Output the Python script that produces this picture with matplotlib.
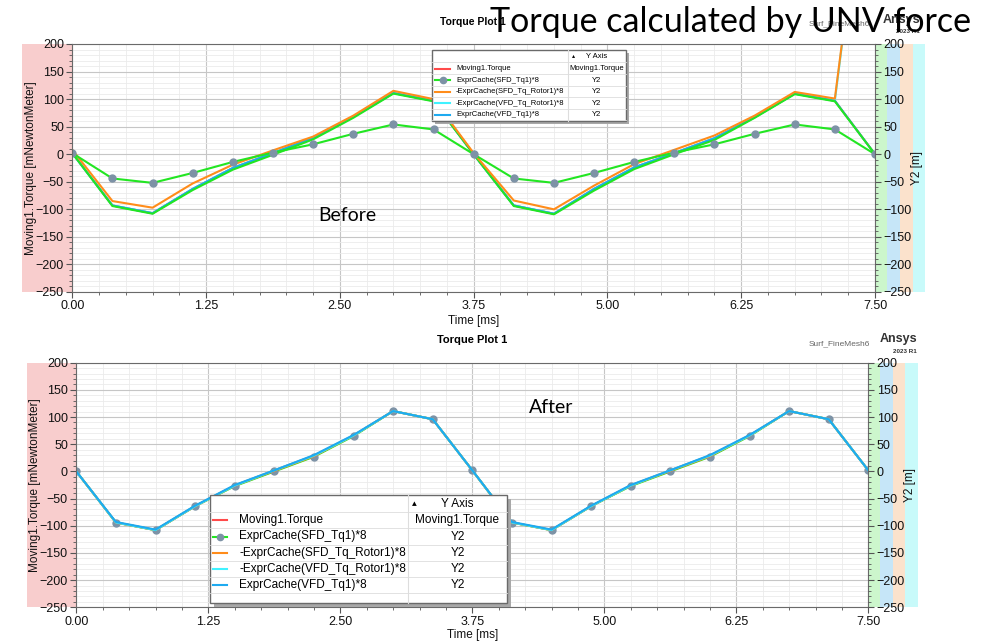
import matplotlib
matplotlib.use("Agg")
import matplotlib.pyplot as plt
from matplotlib.patches import Rectangle
from matplotlib.ticker import MultipleLocator, FormatStrFormatter

plt.rcParams["font.family"] = ["Liberation Sans", "DejaVu Sans"]

# ---- data ----
time_ms = [0.0, 0.375, 0.75, 1.125, 1.5, 1.875, 2.25, 2.625, 3.0, 3.375, 3.75,
           4.125, 4.5, 4.875, 5.25, 5.625, 6.0, 6.375, 6.75, 7.125, 7.5]

series_labels = ["Moving1.Torque", "ExprCache(SFD_Tq1)*8", "-ExprCache(SFD_Tq_Rotor1)*8",
                 "-ExprCache(VFD_Tq_Rotor1)*8", "ExprCache(VFD_Tq1)*8"]
series_axes = ["Moving1.Torque", "Y2", "Y2", "Y2", "Y2"]

# before
top_moving = [2, -93, -107, -63, -25, 2, 30, 68, 111, 97, 0, -93, -108, -63, -24, 2, 29, 67, 110, 97, 0]
top_sfd_tq1 = [2, -44, -52, -34, -14, 3, 18, 37, 54, 45, 0, -44, -52, -34, -14, 3, 18, 37, 54, 45, 0]
top_sfd_rotor = [8, -85, -97, -53, -19, 7, 32, 70, 115, 100, 2, -84, -100, -57, -18, 8, 34, 70, 113, 101, 670]
top_vfd_rotor = [2, -93, -107, -63, -25, 2, 30, 68, 111, 97, 0, -93, -108, -63, -24, 2, 29, 67, 110, 97, 670]
top_vfd_tq1 = [2, -93, -107, -63, -25, 2, 30, 68, 111, 97, 0, -93, -108, -63, -24, 2, 29, 67, 110, 97, 0]
top_green = [2, -94, -108, -65, -28, -1, 27, 66, 110, 96, 0, -94, -109, -66, -27, 0, 26, 66, 109, 96, 0]

# after
bot_moving = [0, -94, -108, -64, -26, 2, 29, 66, 111, 96, 2, -94, -108, -64, -26, 2, 29, 66, 111, 96, 2]
bot_sfd_tq1 = [0, -94, -108, -64, -27, 0, 27, 65, 111, 96, 2, -94, -108, -64, -27, 0, 27, 65, 111, 96, 2]
bot_sfd_rotor = [0, -94, -108, -64, -26, 1, 28, 66, 111, 96, 2, -94, -108, -64, -26, 1, 28, 66, 111, 96, 2]
bot_vfd_rotor = [0, -94, -108, -64, -26, 2, 29, 66, 111, 96, 2, -94, -108, -64, -26, 2, 29, 66, 111, 96, 2]
bot_vfd_tq1 = [0, -93, -107, -63, -25, 2, 30, 67, 111, 96, 2, -93, -107, -63, -25, 2, 30, 67, 111, 96, 2]

red, green, orange, cyan, blue = "#ff4a4a", "#22e622", "#ff8c1a", "#3ff2ff", "#1eaaf0"
series_colors = [red, green, orange, cyan, blue]
marker_gray = "#7d92a6"

W, H = 996, 644
fig = plt.figure(figsize=(W / 100, H / 100), dpi=100)


def frac(x0, y0, x1, y1):
    return [x0 / W, 1 - y1 / H, (x1 - x0) / W, (y1 - y0) / H]


def overlay(z):
    o = fig.add_axes([0, 0, 1, 1], zorder=z)
    o.set_xlim(0, W)
    o.set_ylim(H, 0)
    o.axis("off")
    return o


bg = overlay(0)
ax_top = fig.add_axes(frac(72.3, 44, 875, 292), zorder=1)
ax_bot = fig.add_axes(frac(76.3, 362.7, 868.3, 607.3), zorder=1)
fg = overlay(5)


def band(x0, x1, y0, y1, color):
    bg.add_patch(Rectangle((x0, y0), x1 - x0, y1 - y0, color=color, lw=0))


band_colors = ["#ccf6cc", "#c6e6f8", "#fbe2cc", "#c8fafa"]
band(22, 72, 44, 292, "#f8cdcd")
for i, c in enumerate(band_colors):
    band([876, 887, 900, 913][i], [887, 900, 913, 925][i], 44, 292, c)
band(27, 76, 363, 607, "#f8cdcd")
for i, c in enumerate(band_colors):
    band([868, 880, 893, 905][i], [880, 893, 905, 918][i], 363, 607, c)


def style(ax, xlab_y, y2_x):
    ax.set_xlim(0, 7.5)
    ax.set_ylim(-250, 200)
    ax.xaxis.set_major_locator(MultipleLocator(1.25))
    ax.xaxis.set_minor_locator(MultipleLocator(0.25))
    ax.yaxis.set_major_locator(MultipleLocator(50))
    ax.yaxis.set_minor_locator(MultipleLocator(10))
    ax.xaxis.set_major_formatter(FormatStrFormatter("%.2f"))
    ax.grid(which="major", color="#c6c6c6", lw=0.8)
    ax.grid(which="minor", color="#ebebeb", lw=0.6)
    ax.set_axisbelow(True)
    for s in ax.spines.values():
        s.set_color("#6a6a6a")
    ax.tick_params(which="major", direction="out", length=4, width=0.8, color="#555555",
                   labelsize=9, labelcolor="#111111", pad=2)
    ax.tick_params(which="minor", direction="out", length=2.5, width=0.6, color="#555555")
    ax.set_xlabel("Time [ms]", fontsize=8.5, color="#111111")
    ax.xaxis.label.set_va("center")
    ax.xaxis.set_label_coords(0.5, xlab_y)
    ax.set_ylabel("Moving1.Torque [mNewtonMeter]", fontsize=8.5, color="#111111")
    ax.yaxis.label.set_va("center")
    ax.yaxis.set_label_coords(-0.052, 0.5)
    tw = ax.twinx()
    tw.set_ylim(-250, 200)
    tw.yaxis.set_major_locator(MultipleLocator(50))
    tw.yaxis.set_minor_locator(MultipleLocator(10))
    tw.tick_params(which="major", direction="out", length=4, width=0.8, color="#555555",
                   labelsize=9, labelcolor="#111111", pad=2)
    tw.tick_params(which="minor", direction="out", length=2.5, width=0.6, color="#555555")
    tw.set_ylabel("Y2 [m]", fontsize=8.5, color="#111111")
    tw.yaxis.label.set_va("center")
    tw.yaxis.set_label_coords(y2_x, 0.5)
    for s in tw.spines.values():
        s.set_visible(False)


style(ax_top, -0.116, 1.052)
style(ax_bot, -0.113, 1.053)

# before
ax_top.plot(time_ms, top_moving, color=red, lw=1.5)
ax_top.plot(time_ms, top_vfd_rotor, color=cyan, lw=1.5)
ax_top.plot(time_ms, top_vfd_tq1, color=blue, lw=1.5)
ax_top.plot(time_ms, top_green, color=green, lw=1.5)
ax_top.plot(time_ms, top_sfd_rotor, color=orange, lw=1.5)
ax_top.plot(time_ms, top_sfd_tq1, color=green, lw=1.5, marker="o", ms=5,
            mfc=marker_gray, mec=marker_gray)

# after
ax_bot.plot(time_ms, bot_moving, color=red, lw=1.5)
ax_bot.plot(time_ms, bot_sfd_tq1, color=green, lw=1.5, marker="o", ms=5,
            mfc=marker_gray, mec=marker_gray)
ax_bot.plot(time_ms, bot_sfd_rotor, color=orange, lw=1.5)
ax_bot.plot(time_ms, bot_vfd_rotor, color=cyan, lw=1.5)
ax_bot.plot(time_ms, bot_vfd_tq1, color=blue, lw=1.5)

ax_top.text(0.343, 0.31, "Before", transform=ax_top.transAxes, fontsize=14,
            family="Lato", ha="center", va="center")
ax_bot.text(0.60, 0.815, "After", transform=ax_bot.transAxes, fontsize=14,
            family="Lato", ha="center", va="center")


def table(x0, x1, y0, y1, xdiv, head_y, row_ys, line_x, text_x, fs, shadow):
    fg.add_patch(Rectangle((x0 + shadow, y0 + shadow), x1 - x0, y1 - y0,
                           color="#a8a8a8", lw=0, zorder=1))
    box = Rectangle((x0, y0), x1 - x0, y1 - y0, fc="white", ec="#6a6a6a", lw=1, zorder=2)
    fg.add_patch(box)
    step = row_ys[1] - row_ys[0]
    for y in [head_y] + row_ys:
        fg.plot([x0, x1], [y + step / 2, y + step / 2], color="#dddddd", lw=0.6, zorder=3)
    fg.plot([xdiv, xdiv], [y0, y1], color="#dddddd", lw=0.8, zorder=3)
    col2 = (xdiv + x1) / 2
    fg.text(xdiv + 4, head_y, "\u25b4", fontsize=fs * 0.8, ha="left", va="center", zorder=4)
    fg.text(col2, head_y, "Y Axis", fontsize=fs, ha="center", va="center", zorder=4)
    for i, y in enumerate(row_ys):
        fg.plot([line_x[0], line_x[1]], [y, y], color=series_colors[i], lw=1.5, zorder=4)
        if i == 1:
            fg.plot([(line_x[0] + line_x[1]) / 2], [y], "o", color=marker_gray, ms=4.5, zorder=5)
        fg.text(text_x, y, series_labels[i], fontsize=fs, ha="left", va="center", zorder=4)
        t = fg.text(col2, y, series_axes[i], fontsize=fs, ha="center", va="center", zorder=4)
        t.set_clip_path(box)


table(431.7, 626, 50, 121, 567.7, 56, [68.5, 80, 91.5, 103, 114.5], (435, 450), 456, 5.5, 3)
table(210, 507, 495, 603, 408, 504, [520, 536.5, 553, 569, 585], (213, 227), 239, 8.5, 4)

# headers
fg.text(473, 22, "Torque Plot 1", fontsize=7.5, fontweight="bold", ha="center", va="center")
fg.text(472, 340, "Torque Plot 1", fontsize=8, fontweight="bold", ha="center", va="center")
fg.text(870, 24, "Surf_FineMesh6", fontsize=6, color="#666666", ha="right", va="center")
fg.text(870, 344, "Surf_FineMesh6", fontsize=6, color="#666666", ha="right", va="center")
fg.text(920, 20, "Ansys", fontsize=9, fontweight="bold", color="#333333", ha="right", va="center")
fg.text(920, 31, "2023 R1", fontsize=4.5, fontweight="bold", color="#333333", ha="right", va="center")
fg.text(917, 339, "Ansys", fontsize=9, fontweight="bold", color="#333333", ha="right", va="center")
fg.text(917, 351, "2023 R1", fontsize=4.5, fontweight="bold", color="#333333", ha="right", va="center")
fg.text(731, 32, "Torque calculated by UNV force", fontsize=24.5, family="Lato",
        ha="center", va="baseline", zorder=10)

fig.savefig("out.png", dpi=100)
